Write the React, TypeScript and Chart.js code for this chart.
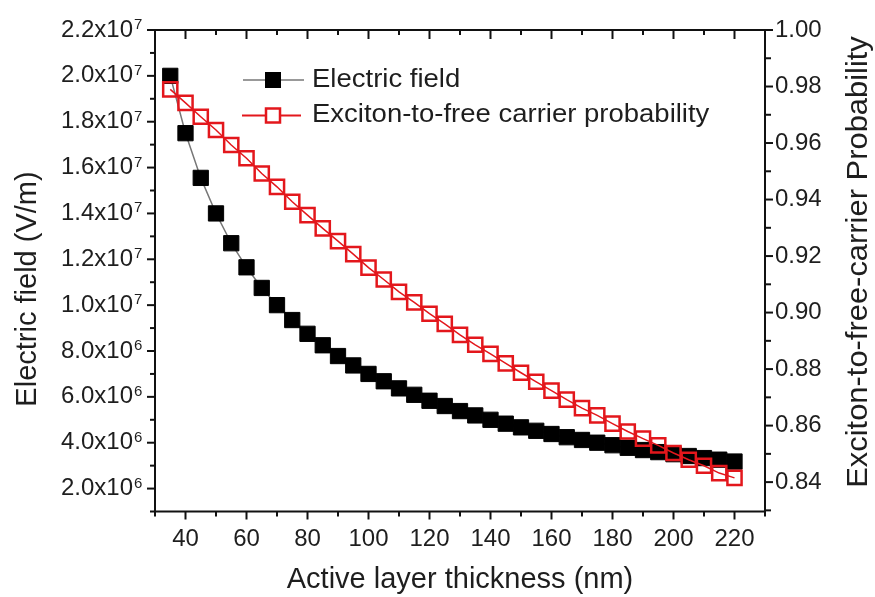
import React, { useEffect, useRef } from 'react';
import { Chart, registerables } from 'chart.js';

Chart.register(...registerables);

const thickness = [35, 40, 45, 50, 55, 60, 65, 70, 75, 80, 85, 90, 95, 100, 105, 110, 115, 120, 125, 130, 135, 140, 145, 150, 155, 160, 165, 170, 175, 180, 185, 190, 195, 200, 205, 210, 215, 220];
const electricField = [2.0e7, 1.75e7, 1.555e7, 1.4e7, 1.27e7, 1.165e7, 1.075e7, 1.0e7, 9.35e6, 8.75e6, 8.25e6, 7.78e6, 7.37e6, 7.0e6, 6.68e6, 6.37e6, 6.09e6, 5.83e6, 5.6e6, 5.38e6, 5.19e6, 5.0e6, 4.83e6, 4.67e6, 4.52e6, 4.38e6, 4.24e6, 4.12e6, 4.0e6, 3.89e6, 3.78e6, 3.68e6, 3.59e6, 3.5e6, 3.42e6, 3.33e6, 3.26e6, 3.18e6];
const probability = [0.979, 0.9742, 0.9693, 0.9646, 0.9593, 0.9546, 0.9492, 0.9445, 0.9392, 0.9345, 0.9298, 0.9253, 0.9207, 0.9159, 0.9117, 0.9073, 0.9036, 0.8996, 0.896, 0.8921, 0.8886, 0.8854, 0.882, 0.8787, 0.8755, 0.8724, 0.8692, 0.8662, 0.8636, 0.8607, 0.8579, 0.8554, 0.853, 0.8503, 0.8479, 0.8458, 0.8432, 0.8415];

const xTicks = [40, 60, 80, 100, 120, 140, 160, 180, 200, 220];
const leftTicks = [2e6, 4e6, 6e6, 8e6, 1e7, 1.2e7, 1.4e7, 1.6e7, 1.8e7, 2.0e7, 2.2e7];
const rightTicks = [0.84, 0.86, 0.88, 0.9, 0.92, 0.94, 0.96, 0.98, 1.0];

const xTitle = 'Active layer thickness (nm)';
const leftTitle = 'Electric field (V/m)';
const rightTitle = 'Exciton-to-free-carrier Probability';
const legendLabels = ['Electric field', 'Exciton-to-free carrier probability'];

const FONT = "'Liberation Sans', Arial, sans-serif";
const TEXT = '#1e1e1e';
const RED = '#e3171c';

function expOf(v: number) {
  return Math.floor(Math.log10(v) + 1e-9);
}
function mantissaLabel(v: number) {
  const e = expOf(v);
  return (v / Math.pow(10, e)).toFixed(1) + 'x10';
}

const noScalePadding = (s: any) => {
  s.paddingTop = 0;
  s.paddingBottom = 0;
  s.paddingLeft = 0;
  s.paddingRight = 0;
};

const framePlugin = {
  id: 'frameAndExtras',
  afterDraw(chart: any) {
    const { ctx, chartArea } = chart;
    const { left, right, top, bottom } = chartArea;
    const xs = chart.scales.x;
    const yl = chart.scales.y;
    const yr = chart.scales.y1;
    ctx.save();
    ctx.strokeStyle = '#111';
    ctx.lineWidth = 2;
    ctx.lineCap = 'butt';
    ctx.strokeRect(left, top, right - left, bottom - top);
    const line = (x1: number, y1: number, x2: number, y2: number) => {
      ctx.beginPath();
      ctx.moveTo(x1, y1);
      ctx.lineTo(x2, y2);
      ctx.stroke();
    };
    // x ticks (bottom outward, top inward)
    for (let k = Math.ceil(xs.min / 10); k * 10 <= xs.max; k++) {
      const v = k * 10;
      const px = xs.getPixelForValue(v);
      const major = xTicks.includes(v);
      line(px, bottom, px, bottom + (major ? 8 : 5));
      line(px, top, px, top + (major ? 9 : 5));
    }
    // left ticks
    for (let k = 1; k <= 22; k++) {
      const py = yl.getPixelForValue(k * 1e6);
      if (py > bottom + 0.5 || py < top - 0.5) continue;
      const major = k % 2 === 0;
      line(left, py, left - (major ? 8 : 5), py);
    }
    // right ticks
    for (let k = 83; k <= 100; k++) {
      const py = yr.getPixelForValue(k / 100);
      if (py > bottom + 0.5 || py < top - 0.5) continue;
      const major = k % 2 === 0;
      line(right, py, right + (major ? 8 : 6), py);
    }
    // exponents of left tick labels
    ctx.fillStyle = TEXT;
    ctx.textAlign = 'left';
    ctx.textBaseline = 'alphabetic';
    ctx.font = `15px ${FONT}`;
    leftTicks.forEach((v) => {
      const py = yl.getPixelForValue(v);
      ctx.fillText(String(expOf(v)), left - 21, py - 1);
    });
    // axis titles (left and right, reading bottom-to-top)
    ctx.textAlign = 'center';
    ctx.textBaseline = 'middle';
    ctx.font = `29px ${FONT}`;
    ctx.save();
    ctx.translate(28, top + 259);
    ctx.rotate(-Math.PI / 2);
    ctx.fillText(leftTitle, 0, 0);
    ctx.restore();
    ctx.font = `30px ${FONT}`;
    ctx.save();
    ctx.translate(859, top + 232);
    ctx.rotate(-Math.PI / 2);
    ctx.scale(1.03, 1);
    ctx.fillText(rightTitle, 0, 0);
    ctx.restore();
    // legend
    const lx = left + 88;
    const rows = [top + 50, top + 85.5];
    ctx.lineWidth = 1.5;
    ctx.strokeStyle = '#777';
    line(lx, rows[0], lx + 61, rows[0]);
    ctx.fillStyle = '#000';
    ctx.fillRect(lx + 30 - 8, rows[0] - 8, 16, 16);
    ctx.strokeStyle = RED;
    ctx.lineWidth = 2;
    line(lx - 1, rows[1], lx + 58, rows[1]);
    ctx.fillStyle = '#fff';
    ctx.lineWidth = 2.5;
    ctx.fillRect(lx + 30 - 7, rows[1] - 7, 14, 14);
    ctx.strokeRect(lx + 30 - 7, rows[1] - 7, 14, 14);
    ctx.fillStyle = TEXT;
    ctx.textAlign = 'left';
    ctx.font = `25px ${FONT}`;
    rows.forEach((ry, i) => {
      ctx.save();
      ctx.translate(lx + 69, ry);
      ctx.scale(1.1, 1);
      ctx.fillText(legendLabels[i], 0, 0);
      ctx.restore();
    });
    ctx.restore();
  },
};

export default function App() {
  const ref = useRef<HTMLCanvasElement | null>(null);
  useEffect(() => {
    if (!ref.current) return;
    const chart = new Chart(ref.current, {
      type: 'line',
      data: {
        datasets: [
          {
            label: legendLabels[1],
            data: thickness.map((x, i) => ({ x, y: probability[i] })),
            yAxisID: 'y1',
            borderColor: RED,
            borderWidth: 1.5,
            pointStyle: 'rect',
            pointRadius: 10,
            pointBorderWidth: 2.5,
            pointBackgroundColor: 'rgba(255,255,255,0)',
            pointBorderColor: RED,
            fill: false,
            order: 0,
          },
          {
            label: legendLabels[0],
            data: thickness.map((x, i) => ({ x, y: electricField[i] })),
            yAxisID: 'y',
            borderColor: '#777',
            borderWidth: 1.5,
            pointStyle: 'rect',
            pointRadius: 10.8,
            pointBorderWidth: 1,
            pointBackgroundColor: '#000',
            pointBorderColor: '#000',
            fill: false,
            order: 1,
          },
        ],
      },
      options: {
        responsive: false,
        maintainAspectRatio: false,
        devicePixelRatio: 1,
        animation: false,
        layout: { padding: { top: 30, left: 0, right: 0, bottom: 0 }, autoPadding: false },
        plugins: { legend: { display: false }, tooltip: { enabled: false } },
        scales: {
          x: {
            type: 'linear',
            position: 'bottom',
            min: 30,
            max: 230,
            afterBuildTicks: (s: any) => {
              s.ticks = xTicks.map((v) => ({ value: v }));
            },
            afterFit: (s: any) => {
              s.height = 85.5;
              noScalePadding(s);
            },
            ticks: { color: TEXT, font: { family: FONT, size: 24 }, padding: 13, maxRotation: 0, autoSkip: false },
            grid: { display: false, drawTicks: false },
            border: { display: false },
            title: { display: true, text: xTitle, color: TEXT, font: { family: FONT, size: 29 }, padding: { top: 0, bottom: 0 } },
          },
          y: {
            type: 'linear',
            position: 'left',
            min: 1e6,
            max: 2.2e7,
            afterBuildTicks: (s: any) => {
              s.ticks = leftTicks.map((v) => ({ value: v }));
            },
            afterFit: (s: any) => {
              s.width = 155;
              noScalePadding(s);
            },
            ticks: { color: TEXT, font: { family: FONT, size: 24 }, padding: 22, callback: (v: any) => mantissaLabel(Number(v)) },
            grid: { display: false, drawTicks: false },
            border: { display: false },
          },
          y1: {
            type: 'linear',
            position: 'right',
            min: 0.8296,
            max: 1.0,
            afterBuildTicks: (s: any) => {
              s.ticks = rightTicks.map((v) => ({ value: v }));
            },
            afterFit: (s: any) => {
              s.width = 110;
              noScalePadding(s);
            },
            ticks: { color: TEXT, font: { family: FONT, size: 24 }, padding: 10, callback: (v: any) => Number(v).toFixed(2) },
            grid: { display: false, drawTicks: false },
            border: { display: false },
          },
        },
      },
      plugins: [framePlugin],
    });
    return () => chart.destroy();
  }, []);
  return (
    <div style={{ position: 'fixed', left: 0, top: 0, width: 875, height: 597, background: '#fff' }}>
      <canvas ref={ref} width={875} height={597} style={{ display: 'block' }} />
    </div>
  );
}
